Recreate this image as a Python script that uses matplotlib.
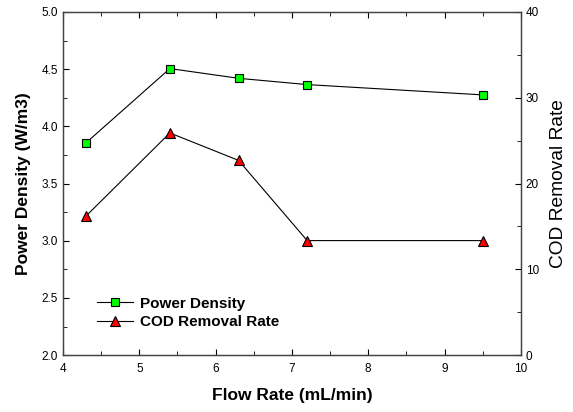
import matplotlib.pyplot as plt
from matplotlib.ticker import MultipleLocator

plt.rcParams['font.family'] = ['Liberation Sans', 'DejaVu Sans']

flow = [4.3, 5.4, 6.3, 7.2, 9.5]
power = [3.855, 4.505, 4.42, 4.365, 4.275]
cod = [16.2, 25.9, 22.7, 13.35, 13.35]

fig = plt.figure(figsize=(5.73, 4.12), dpi=100)
ax = fig.add_axes([0.110, 0.138, 0.799, 0.833])
ax2 = ax.twinx()

p_line, = ax.plot(flow, power, color='black', lw=0.8, marker='s', ms=5.6,
                  mfc='#00ff00', mec='black', mew=0.8, label='Power Density')
c_line, = ax2.plot(flow, cod, color='black', lw=0.8, marker='^', ms=6.8,
                   mfc='red', mec='black', mew=0.8, label='COD Removal Rate')

ax.set_xlim(4, 10)
ax.set_ylim(2.0, 5.0)
ax2.set_ylim(0, 40)

ax.xaxis.set_major_locator(MultipleLocator(1))
ax.xaxis.set_minor_locator(MultipleLocator(0.5))
ax.yaxis.set_major_locator(MultipleLocator(0.5))
ax.yaxis.set_minor_locator(MultipleLocator(0.25))
ax2.yaxis.set_major_locator(MultipleLocator(10))
ax2.yaxis.set_minor_locator(MultipleLocator(5))
ax.yaxis.set_major_formatter(plt.FormatStrFormatter('%.1f'))

ax.tick_params(axis='x', which='both', direction='in', top=True, labelsize=8.5)
ax.tick_params(axis='x', which='major', length=4, pad=6)
ax.tick_params(axis='x', which='minor', length=3)
ax.tick_params(axis='y', which='both', direction='in', labelsize=8.5)
ax.tick_params(axis='y', which='major', length=4)
ax.tick_params(axis='y', which='minor', length=3)
ax2.tick_params(axis='y', which='both', direction='in', labelsize=8.5)
ax2.tick_params(axis='y', which='major', length=4)
ax2.tick_params(axis='y', which='minor', length=3)

for sp in ax.spines.values():
    sp.set_linewidth(0.9)
    sp.set_color('#444444')
for sp in ax2.spines.values():
    sp.set_linewidth(0.9)
    sp.set_color('#444444')

ax.set_xlabel('Flow Rate (mL/min)', fontsize=12.5, fontweight='bold', labelpad=9)
ax.set_ylabel('Power Density (W/m3)', fontsize=12.5, fontweight='bold', labelpad=8)
ax2.set_ylabel('COD Removal Rate', fontsize=13.8, labelpad=8)

ax.legend(handles=[p_line, c_line], loc='lower left', bbox_to_anchor=(0.045, 0.035),
          frameon=False, prop={'weight': 'bold', 'size': 11},
          handlelength=2.3, handletextpad=0.5, labelspacing=0.3)

fig.savefig('out.png', dpi=100)
